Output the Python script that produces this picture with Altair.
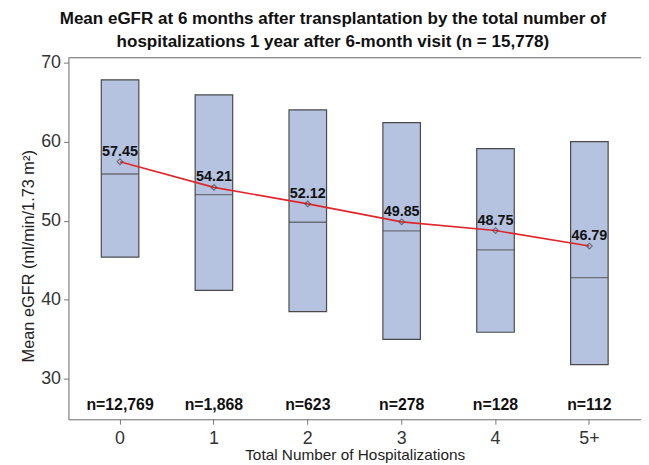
import altair as alt
import pandas as pd

groups = ["0", "1", "2", "3", "4", "5+"]
q3 = [67.8, 65.9, 64.0, 62.4, 59.1, 60.0]
q1 = [45.4, 41.2, 38.5, 35.0, 35.9, 31.8]
median = [55.9, 53.3, 49.8, 48.7, 46.3, 42.8]
mean = [57.45, 54.21, 52.12, 49.85, 48.75, 46.79]
n_labels = ["n=12,769", "n=1,868", "n=623", "n=278", "n=128", "n=112"]
y_ticks = [30, 40, 50, 60, 70]

df = pd.DataFrame({
    "group": groups, "q1": q1, "q3": q3, "median": median,
    "mean": mean, "mean_label": [f"{m:.2f}" for m in mean], "n": n_labels,
})

FONT = "Liberation Sans"
W, H = 578, 365

x = alt.X("group:N", sort=groups,
          scale=alt.Scale(type="band", paddingInner=0.6, paddingOuter=0.35),
          axis=alt.Axis(title="Total Number of Hospitalizations", labelAngle=0,
                        labelFontSize=18, labelColor="#333", labelFont=FONT,
                        titleFontSize=15.5, titleFont=FONT, titleFontWeight="normal",
                        titleColor="#222", titlePadding=1,
                        domainColor="#777", tickColor="#777", tickSize=5,
                        labelPadding=5))
yscale = alt.Scale(domain=[24.9, 70.6], nice=False, zero=False)
yaxis = alt.Axis(title="Mean eGFR (ml/min/1.73 m²)", values=y_ticks, grid=False,
                 labelFontSize=18, labelColor="#333", labelFont=FONT,
                 titleFontSize=16.5, titleFont=FONT, titleFontWeight="normal",
                 titleColor="#222", titleX=-40, titleY=200, titleBaseline="middle",
                 titleAlign="center",
                 domainColor="#777", tickColor="#777", tickSize=5, labelPadding=3)

base = alt.Chart(df)

boxes = base.mark_bar(fill="#b5c3e1", stroke="#4a4a4a", strokeWidth=1.2).encode(
    x=x,
    y=alt.Y("q1:Q", scale=yscale, axis=yaxis),
    y2="q3:Q",
)
med = base.mark_tick(orient="horizontal", size=38, thickness=1.3, color="#4a4a4a").encode(
    x=alt.X("group:N", sort=groups), y="median:Q")
line = base.mark_line(color="#e0262b", strokeWidth=1.6).encode(
    x=alt.X("group:N", sort=groups), y="mean:Q")
pts = base.mark_point(shape="diamond", filled=False, stroke="#444", strokeWidth=1.1,
                      size=34).encode(x=alt.X("group:N", sort=groups), y="mean:Q")
mlab = base.mark_text(font=FONT, fontSize=14.5, fontWeight="bold", color="#111",
                      baseline="middle", dy=-10).encode(
    x=alt.X("group:N", sort=groups), y="mean:Q", text="mean_label:N")
nlab = base.mark_text(font=FONT, fontSize=16, fontWeight="bold", color="#111",
                      baseline="middle").encode(
    x=alt.X("group:N", sort=groups), y=alt.datum(26.7), text="n:N")
top = alt.Chart(pd.DataFrame({"a": [0]})).mark_rule(color="#777", strokeWidth=1).encode(
    y=alt.value(0), x=alt.value(0), x2=alt.value(W))

chart = alt.layer(boxes, med, line, pts, mlab, nlab, top).properties(
    width=W, height=H,
    title=alt.Title(
        ["Mean eGFR at 6 months after transplantation by the total number of",
         "hospitalizations 1 year after 6-month visit (n = 15,778)"],
        font=FONT, fontSize=17.2, fontWeight="bold", color="#111",
        anchor="middle", dx=-22, offset=3, lineHeight=23.5),
    autosize=alt.AutoSizeParams(type="none"),
    padding={"left": 61, "top": 48, "right": 0, "bottom": 42},
).configure_view(stroke=None).configure(background="white")

chart.save("out.html", embed_options={"renderer": "svg", "actions": False})
